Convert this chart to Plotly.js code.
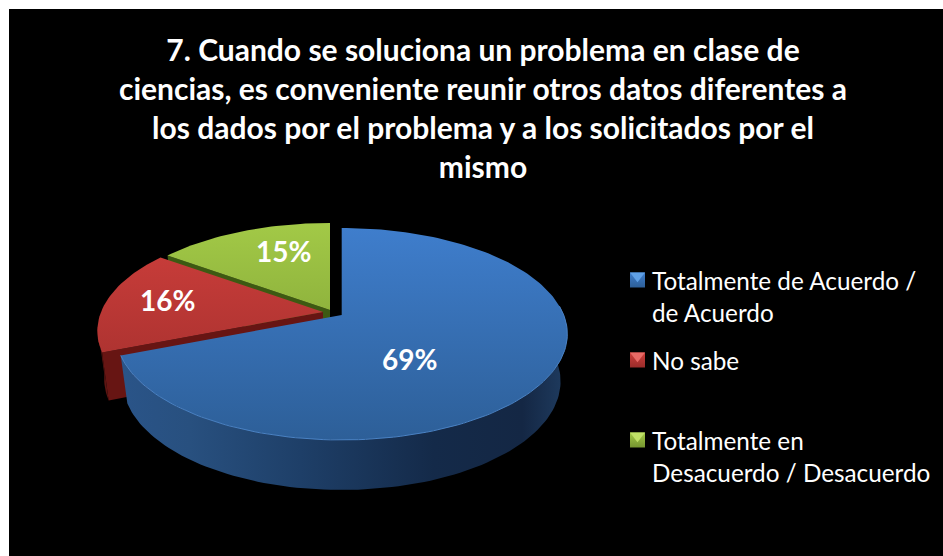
<!DOCTYPE html>
<html><head><meta charset="utf-8">
<script src="https://cdn.plot.ly/plotly-3.0.1.min.js"></script>
<style>html,body{margin:0;padding:0;background:#fff}#c{width:943px;height:556px}</style>
</head><body><div id="c"></div>
<script>
const titleText = "7. Cuando se soluciona un problema en clase de<br>ciencias, es conveniente reunir otros datos diferentes a<br>los dados por el problema y a los solicitados por el<br>mismo";
const categories = ["Totalmente de Acuerdo /<br>de Acuerdo", "No sabe", "Totalmente en<br>Desacuerdo / Desacuerdo"];
const values = [69, 16, 15];
const topLight = ["#3f7ecd", "#cf3f3c", "#a3ca47"];
const topDark = ["#2d5f98", "#9a2c2a", "#759530"];
const swatchTop = ["#5fa0e6", "#e86a66", "#bfe066"];
const legendY = [280, 360, 440];

// projected pie geometry, in page pixels (the axes run in pixels)
const A = 222, B = 102.6, K = 0.179, DY = 47, SX = 0.97, SY = 1.024;
const centres = [[341.7, 315], [323, 312], [330, 310]];
const total = values.reduce((a, b) => a + b, 0);
let acc = 0;
const slices = values.map((v, i) => { const s = { a0: acc / total * 360, a1: (acc + v) / total * 360 }; acc += v; return s; });

function pt(c, deg, low, r) {
  r = r === undefined ? 1 : r;
  const t = deg * Math.PI / 180, s = Math.sin(t) * r, co = Math.cos(t) * r, w = 1 + K * co;
  const dx = A * s / w, dy = -B * co / w;
  return low ? [c[0] + dx * SX, c[1] + DY + dy * SY] : [c[0] + dx, c[1] + dy];
}
function arc(c, a0, a1, low) {
  const out = [], n = Math.max(2, Math.ceil(Math.abs(a1 - a0) / 1.5));
  for (let i = 0; i <= n; i++) out.push(pt(c, a0 + (a1 - a0) * i / n, low));
  return out;
}
function poly(points, extra) {
  return Object.assign({
    type: "scatter", mode: "lines", x: points.map(p => p[0]), y: points.map(p => p[1]),
    fill: "toself", line: { width: 0 }, hoverinfo: "skip", showlegend: false
  }, extra);
}
function flat(color) { return { fillcolor: color }; }
function hgrad(stops, a, b) { return { fillgradient: { type: "horizontal", colorscale: stops, start: a, stop: b } }; }
function vgrad(c0, c1, a, b) { return { fillgradient: { type: "vertical", colorscale: [[0, c0], [1, c1]], start: a, stop: b } }; }

const traces = [];
function topFace(i) {
  const c = centres[i], s = slices[i];
  const pts = [c].concat(arc(c, s.a0, s.a1, false)).concat([c]);
  return poly(pts, vgrad(topLight[i], topDark[i], c[1] - 90, c[1] + 125));
}
// green: radial wall, then top
{
  const c = centres[2], s = slices[2];
  const cLow = pt(c, 0, true, 0);
  traces.push(poly([c, pt(c, s.a0, false), pt(c, s.a0, true), cLow], flat("#3d5a12")));
  traces.push(topFace(2));
}
// red: radial + outer wall, then top
{
  const c = centres[1], s = slices[1];
  const cLow = pt(c, 0, true, 0);
  traces.push(poly([c, pt(c, s.a0, false), pt(c, s.a0, true), cLow], flat("#671513")));
  traces.push(poly(arc(c, s.a0, 262, false).concat(arc(c, 262, s.a0, true)), flat("#5c1512")));
  traces.push(topFace(1));
}
// blue: outer wall, then top, then rim
{
  const c = centres[0], s = slices[0];
  const stops = [[0, "#2a5488"], [0.15, "#28507f"], [0.4, "#1e3f68"], [0.7, "#142a49"], [0.9, "#142744"], [1, "#1f3c60"]];
  traces.push(poly(arc(c, 85, s.a1, false).concat(arc(c, s.a1, 85, true)), hgrad(stops, 123, 567)));
  traces.push(topFace(0));
  const rim = arc(c, 85, s.a1, false);
  traces.push({ type: "scatter", mode: "lines", x: rim.map(p => p[0]), y: rim.map(p => p[1]),
    line: { color: "#4a82c4", width: 1 }, hoverinfo: "skip", showlegend: false });
}
// legend swatches
categories.forEach((name, i) => {
  traces.push({ type: "scatter", mode: "markers", x: [637.5], y: [legendY[i]], name: name.replace("<br>", " "),
    marker: { symbol: "square", size: 15, color: topLight[i], gradient: { type: "vertical", color: topDark[i] }, line: { width: 0 } },
    hoverinfo: "skip", showlegend: false });
  traces.push({ type: "scatter", mode: "markers", x: [637.5], y: [legendY[i] - 4.25],
    marker: { symbol: "triangle-down", size: 13, color: swatchTop[i], line: { width: 0 } },
    hoverinfo: "skip", showlegend: false });
});

const white = "#ffffff", fam = "Lato, 'Open Sans', sans-serif";
const annotations = [];
[[409, 359], [167, 300], [283, 251]].forEach((p, i) => annotations.push({
  x: p[0], y: p[1], xref: "x", yref: "y", text: values[i] + "%", showarrow: false,
  font: { family: fam, size: 28, color: white, weight: 700 }, xanchor: "center", yanchor: "middle"
}));
categories.forEach((name, i) => annotations.push({
  x: 652, y: legendY[i] - 16, xref: "x", yref: "y", text: name, showarrow: false, align: "left",
  font: { family: fam, size: 24.3, color: white }, xanchor: "left", yanchor: "top", xshift: -2
}));

Plotly.newPlot("c", traces, {
  width: 943, height: 556, autosize: false, showlegend: false,
  paper_bgcolor: "#ffffff", plot_bgcolor: "#000000",
  margin: { l: 9, r: 0, t: 9, b: 0, pad: 0 },
  title: { text: titleText, x: 483 / 943, xanchor: "center", xref: "container", y: 1 - 61 / 556, yanchor: "top",
    font: { family: fam, size: 30, color: white, weight: 700 } },
  xaxis: { range: [9, 943], visible: false, fixedrange: true },
  yaxis: { range: [556, 9], visible: false, fixedrange: true },
  annotations
}, { displayModeBar: false, staticPlot: true });
</script></body></html>
